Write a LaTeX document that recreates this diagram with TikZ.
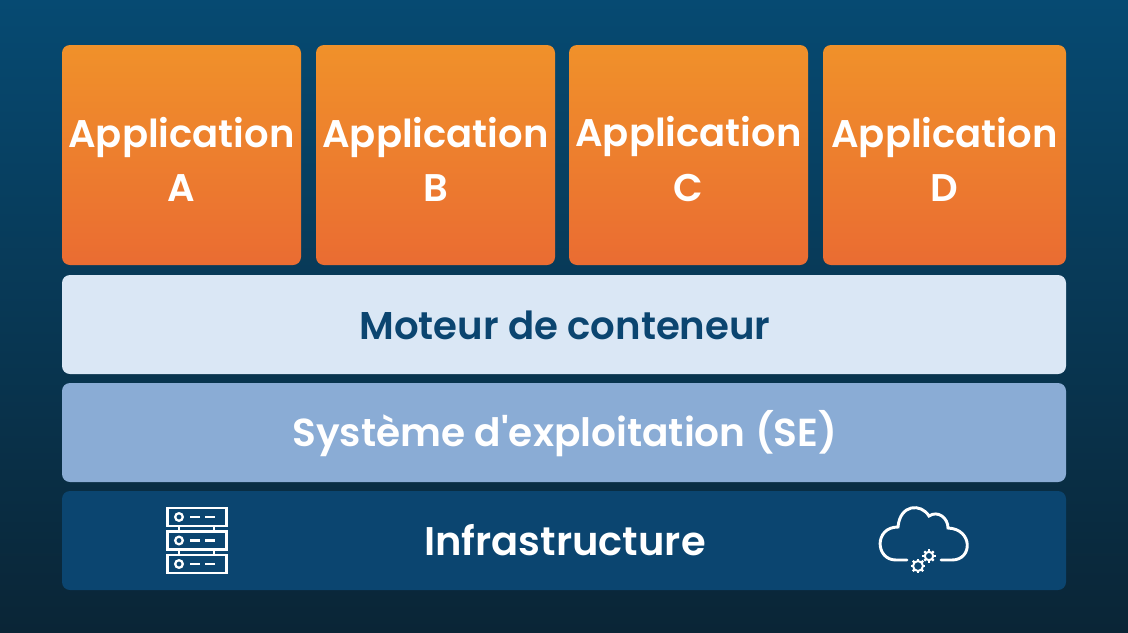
\documentclass[tikz,border=0pt]{standalone}
\usepackage{fontspec}
\newfontfamily\labelfont{Poppins}[UprightFont=* SemiBold]
\definecolor{appTop}{HTML}{F0912A}
\definecolor{appBot}{HTML}{EA6C32}
\definecolor{bgTop}{HTML}{064A72}
\definecolor{bgBot}{HTML}{0A2536}
\definecolor{moteurCol}{HTML}{DAE7F5}
\definecolor{systemCol}{HTML}{8AACD5}
\definecolor{infraCol}{HTML}{0B4570}
\newlength{\pxu}
\setlength{\pxu}{0.75pt}
\newcommand{\applabel}[1]{\rule{0pt}{29pt}Application\\#1}
\tikzset{
  layer/.style = {rounded corners=6pt, minimum width=1004\pxu, minimum height=99\pxu, inner sep=0pt, font=\labelfont\fontsize{29}{32}\selectfont},
  appbox/.style = {rounded corners=6pt, minimum width=239\pxu, minimum height=220\pxu, inner sep=0pt, align=center,
    top color=appTop, bottom color=appBot, text=white, font=\labelfont\fontsize{28.9}{41}\selectfont},
  icon/.style = {draw=white, line width=1.7pt}
}
\begin{document}
\begin{tikzpicture}[x=0.75pt, y=-0.75pt]
        \shade[top color=bgTop, bottom color=bgBot] (0,0) rectangle (1128,632);
        \useasboundingbox (0,0) rectangle (1128,632);
        \node[appbox] (appA) at (181.5,155) {\applabel{A}};
        \node[appbox] (appB) at (435.5,155) {\applabel{B}};
        \node[appbox] (appC) at (688.5,155) {\applabel{C}};
        \node[appbox, minimum width=243\pxu] (appD) at (944.5,155) {\applabel{D}};
        \node[layer, fill=moteurCol, text=infraCol] (moteur) at (564,324.5) {\hspace*{1.5pt}\rule{0pt}{23pt}Moteur de conteneur};
        \node[layer, fill=systemCol, text=white, font=\labelfont\fontsize{29.3}{32}\selectfont] (systeme) at (564,432.5) {\hspace*{1.5pt}\rule{0pt}{28pt}Système d'exploitation (SE)};
        \node[layer, fill=infraCol, text=white, font=\labelfont\fontsize{30}{32}\selectfont] (infra) at (564,540.5) {\hspace*{1.5pt}Infrastructure};
        % serveur
        \foreach \y in {508,531.5,555} {
          \draw[icon] (167.5,\y) rectangle (226.5,\y+18);
          \draw[icon] (179,\y+9) circle (3.8);
          \draw[icon] (190,\y+9) -- (200,\y+9) (205,\y+9) -- (215,\y+9);
        }
        \foreach \x in {179,214} {
          \draw[icon] (\x,526) -- (\x,531.5) (\x,549.5) -- (\x,555);
        }
        % nuage
        \draw[icon, line width=2.2pt, line cap=round] (907,560) -- (896,560)
          .. controls (875,560) and (874,527) .. (898,527)
          .. controls (900,504) and (921,503) .. (929,516)
          .. controls (938,510) and (948,518) .. (948,528)
          .. controls (973,529) and (973,560) .. (952,560) -- (941,560);
        \foreach \p/\r in {(918,566)/5,(929,556)/4.2} {
          \draw[icon, line width=1.5pt] \p circle (\r);
          \foreach \a in {0,45,...,315} {
            \draw[icon, line width=1.7pt] \p ++(\a:\r) -- ++(\a:2.4);
          }
        }
\end{tikzpicture}
\end{document}
